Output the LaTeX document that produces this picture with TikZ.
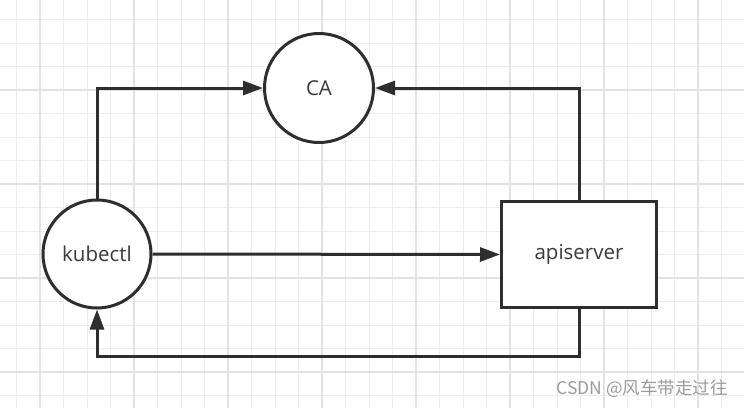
\documentclass[tikz,border=0pt]{standalone}
\usepackage{fontspec}
\setmainfont{Open Sans}
\newfontfamily\cjkfont{Noto Sans CJK SC}
\usetikzlibrary{positioning,arrows.meta}

\definecolor{inkgray}{HTML}{2E2E2E}
\definecolor{textgray}{HTML}{3A3A3A}
\definecolor{minorgrid}{HTML}{EDEDED}
\definecolor{majorgrid}{HTML}{E3E3E3}
\definecolor{markgray}{HTML}{9C9C9C}

\begin{document}
\begin{tikzpicture}[
    x=1pt, y=-1pt,
    client/.style={circle, draw=inkgray, line width=3pt, fill=white,
        minimum size=109pt, inner sep=0pt, text=textgray,
        font=\fontsize{20.5}{23}\selectfont},
    server/.style={rectangle, draw=inkgray, line width=3pt, fill=white,
        minimum width=155pt, minimum height=106pt, inner sep=0pt,
        text=textgray, font=\fontsize{20.5}{23}\selectfont},
    link/.style={draw=inkgray, line width=3pt,
        -{Triangle[length=20pt,width=14pt]}},
    minorline/.style={draw=minorgrid, line width=1pt},
    majorline/.style={draw=majorgrid, line width=2pt}
]
\useasboundingbox (0,0) rectangle (744,408);
\fill[white] (0,0) rectangle (744,408);

% grid
\foreach \i in {0,...,30}
    \draw[minorline] (16.5+23.5*\i,0) -- (16.5+23.5*\i,408);
\foreach \j in {0,...,16}
    \draw[minorline] (0,19.5+23.5*\j) -- (744,19.5+23.5*\j);
\foreach \i in {0,...,7}
    \draw[majorline] (40+94*\i,0) -- (40+94*\i,408);
\foreach \j in {0,...,3}
    \draw[majorline] (0,90+94*\j) -- (744,90+94*\j);

% nodes
\node (CA) [client] at (319,88) {CA};
\node (kubectl) [client, minimum size=108pt] at (97,254) {kubectl};
\node (apiserver) [server] at (579,254.5) {apiserver};

% links
\draw[link] (kubectl.north) |- (CA.west);
\draw[link] (apiserver.north) |- (CA.east);
\draw[link] (kubectl.east) -- (apiserver.west);
\draw[link] (apiserver.south) -- ++(0,47) -| (kubectl.south);

\node (mark) [anchor=east, text=markgray, inner sep=0pt,
    font=\cjkfont\fontsize{17.5}{20}\selectfont] at (728,389) {CSDN @风车带走过往};
\end{tikzpicture}
\end{document}
